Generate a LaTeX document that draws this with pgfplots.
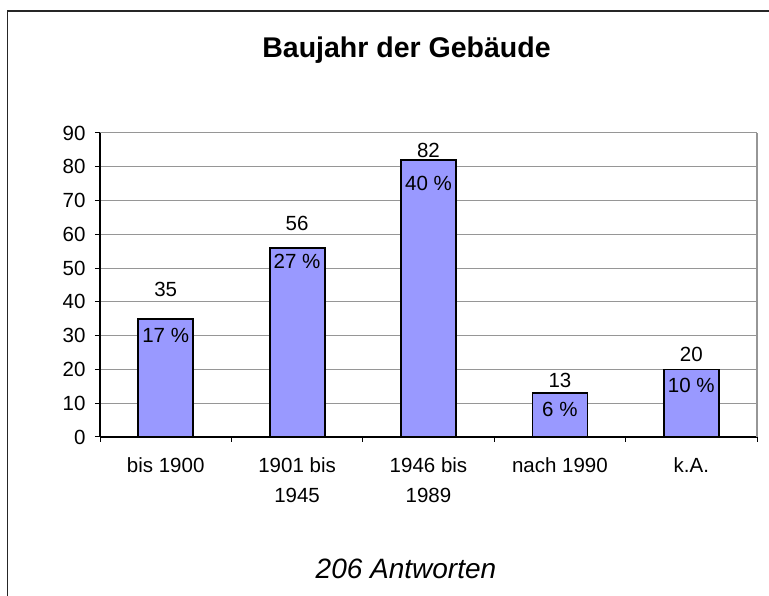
\documentclass[border=0pt]{standalone}
\usepackage{pgfplots}
\pgfplotsset{compat=1.18}
\usepackage{pgfplotstable}
\usepackage{fontspec}
\setmainfont{Liberation Sans}
\definecolor{barfill}{RGB}{153,153,255}
\definecolor{gridgray}{RGB}{150,150,150}

\pgfplotstableread{
x y
0 35
1 56
2 82
3 13
4 20
}\counts

\pgfplotstableread{
x ly lab
0 43.8 35
1 63.3 56
2 84.7 82
3 16.6 13
4 24.3 20
}\vallabels

\pgfplotstableread{
x py lab
0 30.2 {17 \%}
1 52.1 {27 \%}
2 75.2 {40 \%}
3 8.3 {6 \%}
4 15.4 {10 \%}
}\pctlabels

\begin{document}
\begin{tikzpicture}[x=1pt,y=1pt]
\useasboundingbox (0,0) rectangle (769,596);
\draw[line width=1.5pt, black!85] (7.5,-10) -- (7.5,585) -- (790,585);
\node[font=\bfseries\fontsize{28.5}{34}\selectfont, anchor=base, inner sep=0pt] at (406.5,538) {Baujahr der Gebäude};
\node[font=\itshape\fontsize{28}{34}\selectfont, anchor=base, inner sep=0pt] at (406,17) {206 Antworten};
\begin{axis}[
  at={(100pt,159pt)}, anchor=south west,
  scale only axis, width=657pt, height=304pt,
  xmin=-0.5, xmax=4.5, ymin=0, ymax=90,
  axis x line*=bottom, axis y line*=left,
  axis line style={black, line width=1.2pt, -},
  ytick={0,10,...,90},
  ymajorgrids, grid style={gridgray, line width=1pt},
  xtick={-0.5,0.5,1.5,2.5,3.5,4.5}, xticklabels={},
  extra x ticks={0,1,2,3,4},
  extra x tick labels={bis 1900, {1901 bis\\1945}, {1946 bis\\1989}, nach 1990, k.A.},
  extra x tick style={major tick length=0pt, grid=none},
  tick align=outside, major tick length=5pt,
  tick style={black, line width=1pt},
  /pgf/number format/assume math mode=true,
  ticklabel style={font=\fontsize{20.5}{30}\selectfont},
  xticklabel style={align=center, yshift=-17pt},
  yticklabel style={xshift=-6pt},
  clip=false,
]
\draw[gridgray, line width=2pt] (rel axis cs:1,0) -- (rel axis cs:1,1);
\addplot[ybar, bar width=55pt, fill=barfill, draw=black, line width=1.8pt] table[x=x,y=y]{\counts};
\addplot[draw=none, mark=none, nodes near coords, point meta=explicit symbolic,
  every node near coord/.append style={anchor=center, inner sep=0pt, font=\fontsize{20.5}{24}\selectfont}]
  table[x=x, y=ly, meta=lab]{\vallabels};
\addplot[draw=none, mark=none, nodes near coords, point meta=explicit symbolic,
  every node near coord/.append style={anchor=center, inner sep=0pt, font=\fontsize{20.5}{24}\selectfont}]
  table[x=x, y=py, meta=lab]{\pctlabels};
\end{axis}
\end{tikzpicture}
\end{document}
